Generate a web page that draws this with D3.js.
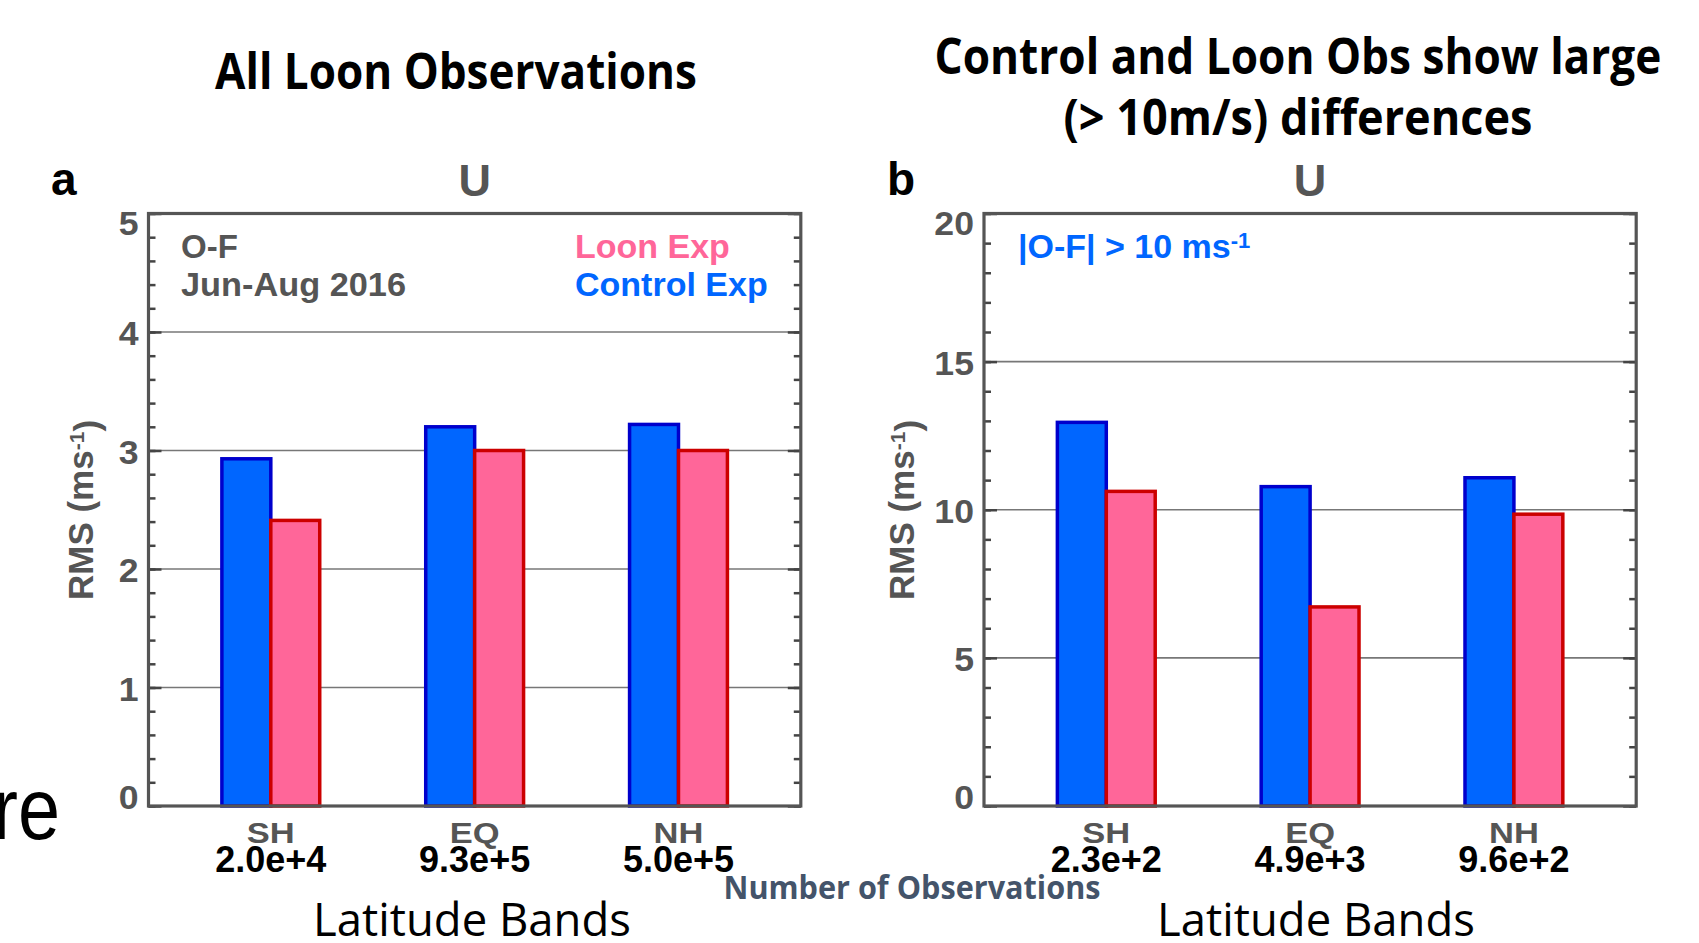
<!DOCTYPE html>
<html><head><meta charset="utf-8">
<script src="https://cdn.jsdelivr.net/npm/d3@7"></script>
<style>body{margin:0;background:#fff;overflow:hidden} svg{display:block}</style>
</head><body>
<script>
// ---------- data ----------
const categories = ["SH", "EQ", "NH"];
const obsCountA = ["2.0e+4", "9.3e+5", "5.0e+5"];
const obsCountB = ["2.3e+2", "4.9e+3", "9.6e+2"];
const controlA = [2.93, 3.20, 3.22];
const loonA = [2.41, 3.00, 3.00];
const controlB = [12.95, 10.78, 11.08];
const loonB = [10.62, 6.72, 9.85];
const ticksA = [0, 1, 2, 3, 4, 5];
const ticksB = [0, 5, 10, 15, 20];

(function () {
const W = 1699, H = 943;
const svg = d3.select("body").append("svg").attr("width", W).attr("height", H);
const MAT = "'Liberation Sans', Arial, Helvetica, sans-serif";
const CAL = "'Open Sans', 'Noto Sans', sans-serif";
const GRAY = "#555";

function stretch(sel, sx) {
  sel.each(function () {
    const t = d3.select(this);
    const x = +t.attr("x") || 0, y = +t.attr("y") || 0;
    t.attr("x", 0).attr("y", 0).attr("transform", `translate(${x},${y}) scale(${sx},1)`);
  });
}
// text fitted to a target width by horizontal scaling
function fitText(str, cx, y, width, size, weight, fill) {
  const t = svg.append("text").attr("x", 0).attr("y", 0).attr("text-anchor", "middle")
    .attr("font-family", CAL).attr("font-weight", weight).attr("font-size", size).attr("fill", fill).text(str);
  const nat = t.node().getComputedTextLength() || width;
  t.attr("transform", `translate(${cx},${y}) scale(${width / nat},1)`);
  return t;
}

const plotTop = 213.5, plotBottom = 806;
const panels = [
  { left: 148.5, right: 800.8, ymax: 5, minor: 0.2, ticks: ticksA, control: controlA, loon: loonA, counts: obsCountA, letter: "a", letterX: 51, rmsX: 93, xlabX: 472 },
  { left: 984, right: 1636.2, ymax: 20, minor: 1, ticks: ticksB, control: controlB, loon: loonB, counts: obsCountB, letter: "b", letterX: 887, rmsX: 914, xlabX: 1316 }
];

panels.forEach((p) => {
  const x = d3.scaleLinear().domain([0.4, 3.6]).range([p.left, p.right]);
  const y = d3.scaleLinear().domain([0, p.ymax]).range([plotBottom, plotTop]);
  const g = svg.append("g");
  const bw = x(0.24) - x(0);

  // gridlines
  g.selectAll("line.grid").data(p.ticks.filter(t => t > 0 && t < p.ymax)).join("line")
    .attr("x1", p.left).attr("x2", p.right)
    .attr("y1", d => y(d)).attr("y2", d => y(d))
    .attr("stroke", "#777").attr("stroke-width", 1.6);

  // bars
  const rows = categories.map((c, i) => ({ c, i, control: p.control[i], loon: p.loon[i] }));
  g.selectAll("rect.ctl").data(rows).join("rect")
    .attr("x", d => x(d.i + 1) - bw).attr("width", bw)
    .attr("y", d => y(d.control)).attr("height", d => y(0) - y(d.control))
    .attr("fill", "#0066ff").attr("stroke", "#0000cc").attr("stroke-width", 3.5);
  g.selectAll("rect.loon").data(rows).join("rect")
    .attr("x", d => x(d.i + 1)).attr("width", bw)
    .attr("y", d => y(d.loon)).attr("height", d => y(0) - y(d.loon))
    .attr("fill", "#ff6699").attr("stroke", "#cc0000").attr("stroke-width", 3.5);

  // minor/major ticks left and right
  const minorVals = d3.range(0, p.ymax + 1e-9, p.minor);
  const axL = g.append("g").attr("transform", `translate(${p.left},0)`)
    .call(d3.axisLeft(y).tickValues(minorVals).tickSize(-7).tickFormat(""));
  const axR = g.append("g").attr("transform", `translate(${p.right},0)`)
    .call(d3.axisRight(y).tickValues(minorVals).tickSize(-7).tickFormat(""));
  const axLM = g.append("g").attr("transform", `translate(${p.left},0)`)
    .call(d3.axisLeft(y).tickValues(p.ticks).tickSize(-13).tickPadding(10).tickFormat(d3.format("d")));
  const axRM = g.append("g").attr("transform", `translate(${p.right},0)`)
    .call(d3.axisRight(y).tickValues(p.ticks).tickSize(-13).tickFormat(""));
  [axL, axR, axLM, axRM].forEach(a => {
    a.select(".domain").remove();
    a.selectAll(".tick line").attr("stroke", "#444").attr("stroke-width", 2.5);
  });
  axLM.selectAll(".tick text")
    .attr("fill", GRAY).attr("font-family", MAT).attr("font-weight", "bold").attr("font-size", 33)
    .attr("dy", null).attr("dominant-baseline", "central")
    .attr("y", d => d === 0 ? -9 : (d === p.ymax ? 9 : 1));
  stretch(axLM.selectAll(".tick text"), 1.08);

  // frame
  g.append("rect").attr("x", p.left).attr("y", plotTop).attr("width", p.right - p.left).attr("height", plotBottom - plotTop)
    .attr("fill", "none").attr("stroke", GRAY).attr("stroke-width", 3.2);

  // category labels
  const catT = g.selectAll("text.cat").data(categories).join("text")
    .attr("x", (d, i) => x(i + 1)).attr("y", 843)
    .attr("text-anchor", "middle").attr("font-family", MAT).attr("font-weight", "bold")
    .attr("font-size", 30).attr("fill", GRAY).text(d => d);
  stretch(catT, 1.15);
  g.selectAll("text.cnt").data(p.counts).join("text")
    .attr("x", (d, i) => x(i + 1)).attr("y", 872)
    .attr("text-anchor", "middle").attr("font-family", MAT).attr("font-weight", "bold")
    .attr("font-size", 36).attr("fill", "#000").text(d => d);

  // panel title U and letter
  g.append("text").attr("x", (p.left + p.right) / 2).attr("y", 196).attr("text-anchor", "middle")
    .attr("font-family", MAT).attr("font-weight", "bold").attr("font-size", 45).attr("fill", GRAY).text("U");
  g.append("text").attr("x", p.letterX).attr("y", 195)
    .attr("font-family", MAT).attr("font-weight", "bold").attr("font-size", 46).attr("fill", "#000").text(p.letter);

  // y label
  const yl = g.append("text").attr("transform", `translate(${p.rmsX},510) rotate(-90)`)
    .attr("text-anchor", "middle").attr("font-family", MAT).attr("font-weight", "bold")
    .attr("font-size", 35).attr("fill", GRAY);
  yl.append("tspan").text("RMS (ms");
  yl.append("tspan").attr("dy", "-0.45em").attr("font-size", 21).text("-1");
  yl.append("tspan").attr("dy", "0.45em").text(")");

  // x label
  fitText("Latitude Bands", p.xlabX, 936, 318, 45, "normal", "#000");
});

// panel a annotations
svg.append("text").attr("x", 181).attr("y", 258).attr("font-family", MAT).attr("font-weight", "bold")
  .attr("font-size", 33).attr("fill", GRAY).text("O-F");
svg.append("text").attr("x", 181).attr("y", 296).attr("font-family", MAT).attr("font-weight", "bold")
  .attr("font-size", 33).attr("fill", GRAY).attr("textLength", 225).attr("lengthAdjust", "spacingAndGlyphs").text("Jun-Aug 2016");
svg.append("text").attr("x", 575).attr("y", 258).attr("font-family", MAT).attr("font-weight", "bold")
  .attr("font-size", 34).attr("fill", "#ff6699").text("Loon Exp");
svg.append("text").attr("x", 575).attr("y", 296).attr("font-family", MAT).attr("font-weight", "bold")
  .attr("font-size", 34).attr("fill", "#0066ff").text("Control Exp");

// panel b annotation
const ob = svg.append("text").attr("x", 1018).attr("y", 258).attr("font-family", MAT).attr("font-weight", "bold")
  .attr("font-size", 34).attr("fill", "#0066ff");
ob.append("tspan").text("|O-F| > 10 ms");
ob.append("tspan").attr("dy", "-0.45em").attr("font-size", 22).text("-1");

// slide titles
fitText("All Loon Observations", 456, 89, 482, 50, "bold", "#000");
fitText("Control and Loon Obs show large", 1298, 74, 727, 50, "bold", "#000");
fitText("(> 10m/s) differences", 1298, 135, 469, 50, "bold", "#000");

// Number of Observations
fitText("Number of Observations", 912, 899, 377, 33, "bold", "#44546a");

// slide fragment
svg.append("text").attr("transform", "translate(60,839) scale(0.86,1)").attr("text-anchor", "end")
  .attr("font-family", MAT).attr("font-size", 88).attr("fill", "#000").text("re");
})();
</script>
</body></html>
